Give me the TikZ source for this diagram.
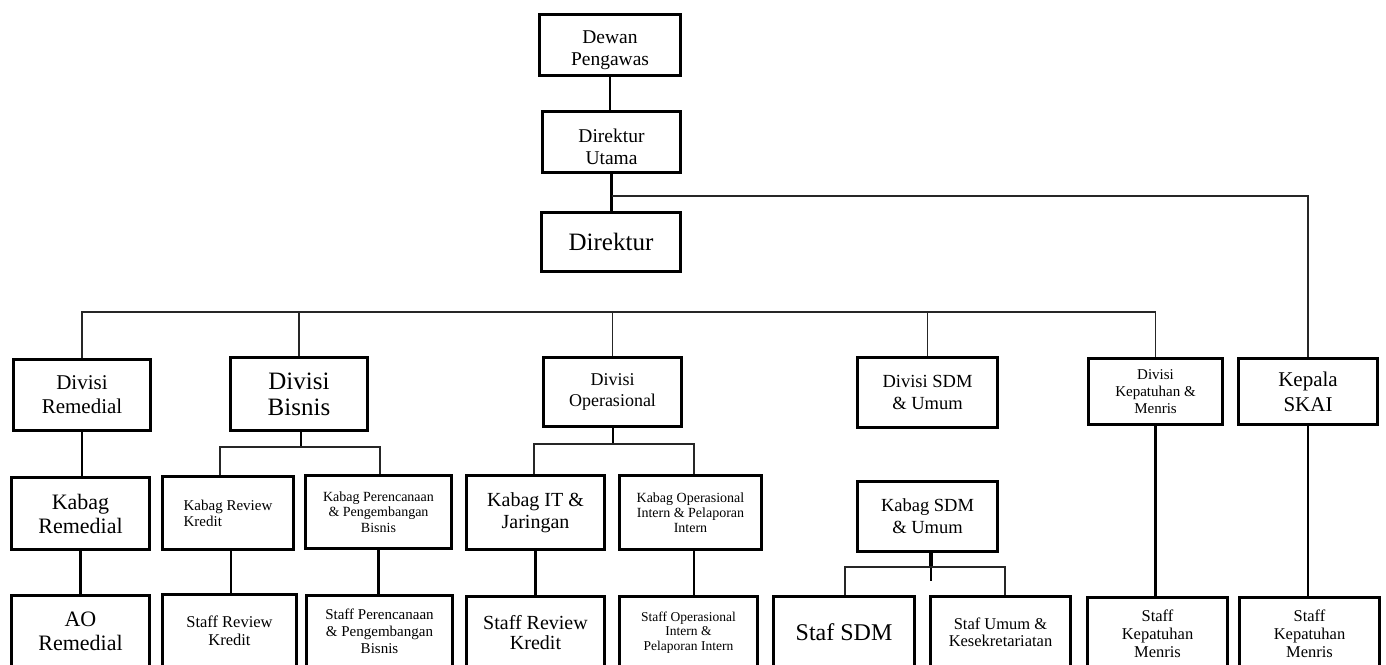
\documentclass[tikz,border=0pt]{standalone}
\usepackage{fontspec}
\setmainfont{Liberation Serif}
\newcommand{\fs}[2]{\fontsize{#1}{#2}\selectfont}
\begin{document}
\begin{tikzpicture}[x=1pt,y=-1pt,
  box/.style={draw=black, line width=3pt, inner sep=0pt, align=center},
  link/.style={draw=black, line width=2.3pt},
  bus/.style={draw=black!85, line width=1.3pt},
  stub/.style={draw=black, line width=4pt}]
\useasboundingbox[fill=white] (0,0) rectangle (1386,664);

% top
\node[box, minimum width=141, minimum height=61, font=\fs{19.5}{22}] (dewan) at (610,45) {\rule{0pt}{23pt}Dewan\\Pengawas};
\node[box, minimum width=138, minimum height=61, font=\fs{19.5}{21.7}] (dutama) at (611.5,142) {\rule{0pt}{23pt}Direktur\\Utama};
\node[box, minimum width=139, minimum height=59, font=\fs{25}{28}] (dir) at (611,242) {Direktur};

% divisions
\node[box, minimum width=137, minimum height=71, font=\fs{21}{24}] (divrem) at (82,395) {Divisi\\Remedial};
\node[box, minimum width=137, minimum height=73, font=\fs{25}{26}] (divbis) at (299,394) {Divisi\\Bisnis};
\node[box, minimum width=138, minimum height=69, font=\fs{18}{21.6}] (divops) at (612.5,392) {Divisi\\Operasional};
\node[box, minimum width=140, minimum height=70, font=\fs{18.5}{21.6}] (divsdm) at (927.5,392.5) {Divisi SDM\\\& Umum};
\node[box, minimum width=134, minimum height=66, font=\fs{15}{16.7}] (divkep) at (1155.5,391.5) {Divisi\\Kepatuhan \&\\Menris};
\node[box, minimum width=139, minimum height=66, font=\fs{21}{25}] (skai) at (1308,391.5) {Kepala\\SKAI};

% kabag
\node[box, minimum width=138, minimum height=72, font=\fs{22}{24}] (kabrem) at (80.5,513.5) {Kabag\\Remedial};
\node[box, minimum width=131, minimum height=73, font=\fs{15}{16}, align=left] (kabrev) at (228,513) {Kabag Review\\Kredit};
\node[box, minimum width=146, minimum height=73, font=\fs{14}{15.3}] (kabper) at (378.5,512) {Kabag Perencanaan\\\& Pengembangan\\Bisnis};
\node[box, minimum width=138, minimum height=74, font=\fs{20}{21.7}] (kabit) at (535.5,512.5) {Kabag IT \&\\Jaringan};
\node[box, minimum width=142, minimum height=74, font=\fs{14}{15}] (kabopi) at (690.5,512.5) {Kabag Operasional\\Intern \& Pelaporan\\Intern};
\node[box, minimum width=140, minimum height=70, font=\fs{18.5}{21.7}] (kabsdm) at (927.5,516.5) {Kabag SDM\\\& Umum};

% staff (cut by the lower edge)
\node[box, minimum width=138, minimum height=72, font=\fs{22}{24}] (aorem) at (80.5,631.5) {AO\\Remedial};
\node[box, minimum width=134, minimum height=73, font=\fs{16.5}{17.7}] (strev) at (229.5,631) {Staff Review\\Kredit};
\node[box, minimum width=146, minimum height=72, font=\fs{15}{17}] (stper) at (379.5,631.5) {Staff Perencanaan\\\& Pengembangan\\Bisnis};
\node[box, minimum width=138, minimum height=72, font=\fs{20}{20}] (strev2) at (535.5,632.5) {Staff Review\\Kredit};
\node[box, minimum width=138, minimum height=72, font=\fs{13.5}{14.7}] (stopi) at (688.5,632.5) {Staff Operasional\\Intern \&\\Pelaporan Intern};
\node[box, minimum width=141, minimum height=72, font=\fs{24}{26}] (stsdm) at (844,632.5) {Staf SDM};
\node[box, minimum width=140, minimum height=72, font=\fs{16.5}{17.3}] (stumum) at (1000.5,632.5) {Staf Umum \&\\Kesekretariatan};
\node[box, minimum width=140, minimum height=72, font=\fs{16.5}{18}] (stkep1) at (1157.5,633.5) {Staff\\Kepatuhan\\Menris};
\node[box, minimum width=140, minimum height=72, font=\fs{16.5}{18}] (stkep2) at (1309.5,633.5) {Staff\\Kepatuhan\\Menris};

% coordinates for buses
\coordinate (du) at (612,196);
\coordinate (bus) at (0,312);
\coordinate (bisT) at (301,447);
\coordinate (bisL) at (220,447);
\coordinate (bisR) at (380,447);
\coordinate (opsT) at (613,444);
\coordinate (opsL) at (534,444);
\coordinate (opsR) at (694,444);
\coordinate (sdmT) at (931,567);
\coordinate (sdmE) at (931,581);
\coordinate (sdmL) at (845,567);
\coordinate (sdmR) at (1005,567);

% top connectors
\draw[link] (dewan.south) -- (dewan.south |- dutama.north);
\draw[link] (dutama.south) -- (dutama.south |- dir.north);
\draw[bus] (du) -| (skai.north);

% division bus
\draw[bus] (divrem.north) -- (divrem.north |- bus) -- (divkep.north |- bus) -- (divkep.north);
\foreach \n in {divbis,divops,divsdm}
  \draw[bus] (\n.north) -- (\n.north |- bus);

% remedial
\draw[link] (divrem.south) -- (divrem.south |- kabrem.north);
\draw[link] (kabrem.south) -- (kabrem.south |- aorem.north);

% bisnis
\draw[link] (divbis.south -| bisT) -- (bisT);
\draw[bus] (bisL |- kabrev.north) -- (bisL) -- (bisR) -- (bisR |- kabper.north);
\draw[link] (kabrev.south) ++(3,0) coordinate (kr) -- (kr |- strev.north);
\draw[link] (kabper.south) -- (kabper.south |- stper.north);

% operasional
\draw[link] (divops.south -| opsT) -- (opsT);
\draw[bus] (opsL |- kabit.north) -- (opsL) -- (opsR) -- (opsR |- kabopi.north);
\draw[link] (kabit.south) -- (kabit.south |- strev2.north);
\draw[link] (kabopi.south -| opsR) -- (opsR |- stopi.north);

% SDM
\draw[stub] (kabsdm.south -| sdmT) -- (sdmT);
\draw[link] (sdmT) -- (sdmE);
\draw[bus] (sdmL |- stsdm.north) -- (sdmL) -- (sdmR) -- (sdmR |- stumum.north);

% kepatuhan & SKAI
\draw[link] (divkep.south) -- (divkep.south |- stkep1.north);
\draw[link] (skai.south) -- (skai.south |- stkep2.north);
\end{tikzpicture}
\end{document}
